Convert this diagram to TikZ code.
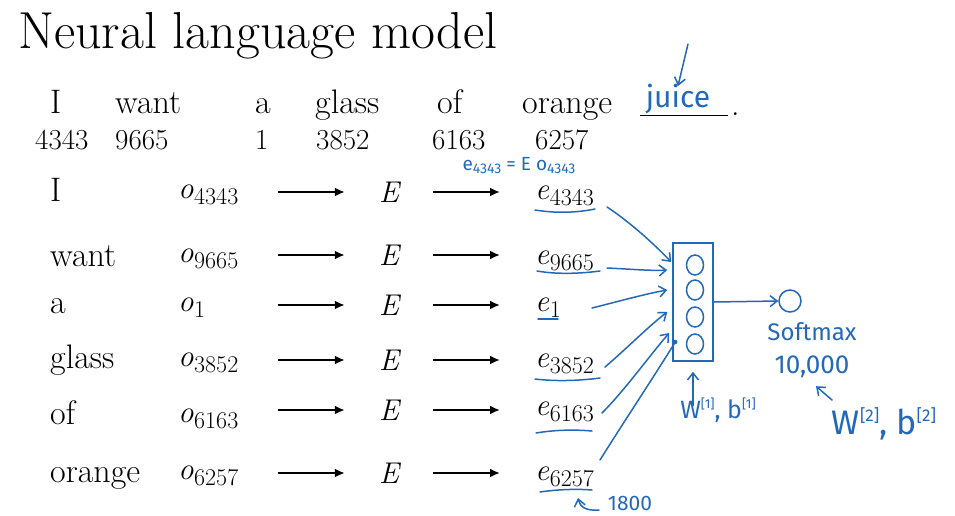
\documentclass[tikz,border=0pt]{standalone}
\usepackage{fontspec}
\newfontfamily\hand{Fira Sans}
\usetikzlibrary{arrows.meta,calc,shapes.geometric}
\definecolor{pen}{RGB}{35,105,185}
\newcommand\vsub[2]{\textit{#1}\kern0.5pt\raisebox{-6pt}{\fontsize{24}{26}\selectfont #2}}
\newcommand\hsub[2]{#1\raisebox{-3pt}{\fontsize{14}{16}\selectfont #2}}
\begin{document}
\begin{tikzpicture}[x=1pt,y=-1pt,
  title/.style={anchor=base west,inner sep=0,font=\fontsize{52}{58}\selectfont},
  word/.style={anchor=base west,inner sep=0,font=\fontsize{34}{38}\selectfont},
  num/.style={anchor=base west,inner sep=0,font=\fontsize{29}{32}\selectfont},
  mathnode/.style={anchor=base west,inner sep=0,font=\fontsize{31}{34}\selectfont},
  Enode/.style={inner sep=0,minimum width=88pt,font=\fontsize{30}{34}\selectfont\itshape},
  blk/.style={line width=2pt,-{Latex[length=10pt,width=9pt]}},
  pennote/.style={pen,inner sep=0,font=\hand\fontsize{20}{24}\selectfont},
  penline/.style={pen,line width=1.5pt,line cap=round},
  penarrow/.style={penline,-{Straight Barb[length=7pt,width=11pt]}}]
\useasboundingbox[fill=white] (0,0) rectangle (955,515);

% title
\node[title] (title) at (18,48) {Neural language model};

% sentence
\node[word] (s1) at (50,113) {I};
\node[word] (s2) at (115,113) {want};
\node[word] (s3) at (255,113) {a};
\node[word] (s4) at (315,113) {glass};
\node[word] (s5) at (437,113) {of};
\node[word] (s6) at (522,113) {orange};
\draw[line width=1pt] (640,115) coordinate (ul1) -- (728,115) coordinate (ul2);
\node[word] (dot) at (731,115) {.};
\node[pennote,font=\hand\fontsize{30}{34}\selectfont] (juice) at (678,99) {juice};
\coordinate (jtop) at (688,44);
\draw[penarrow] (jtop) -- ([yshift=-2pt]juice.north);

% indices
\node[num] (n1) at (35,149) {4343};
\node[num] (n2) at (115,149) {9665};
\node[num] (n3) at (255,149) {1};
\node[num] (n4) at (316,149) {3852};
\node[num] (n5) at (432,149) {6163};
\node[num] (n6) at (535,149) {6257};

\node[pennote,font=\hand\fontsize{19}{21}\selectfont] (eq) at (519,166) {\hsub{e}{4343} = E \hsub{o}{4343}};

% rows
\foreach \i/\w/\idx/\ay/\ob/\eb/\wb in {1/I/4343/192/198/199/201,
                                       2/want/9665/255/262/264/266,
                                       3/a/1/305/311/311/313,
                                       4/glass/3852/360/366/367/368,
                                       5/of/6163/410/422/415/424,
                                       6/orange/6257/473/479/480/482}{
  \node[word] (w\i) at (50,\wb) {\w};
  \node[mathnode] (o\i) at (178,\ob) {\vsub{o}{\idx}};
  \node[Enode] (E\i) at (389,\ay) {E};
  \node[mathnode] (e\i) at (535,\eb) {\vsub{e}{\idx}};
  \coordinate (oa\i) at (278,\ay);
  \coordinate (eb\i) at (500,\ay);
  \draw[blk] (oa\i) -- (E\i.west);
  \draw[blk] (E\i.east) -- (eb\i);
}

% underlines of e's
\draw[penline] (535,210) .. controls (560,214) and (580,212) .. (595,209);
\draw[penline] (537,271) .. controls (560,275) and (585,273) .. (600,271);
\draw[penline] (538,319) -- (558,319);
\draw[penline] (535,379) .. controls (560,382) and (585,380) .. (600,378);
\draw[penline] (536,433) .. controls (560,429) and (580,430) .. (592,431);
\draw[penline] (540,492) .. controls (560,489) and (580,489) .. (592,490);

% hidden layer
\node[draw=pen,line width=1.5pt,minimum width=40pt,minimum height=118pt,inner sep=0] (layer) at (693,302) {};
\foreach \j/\cy in {1/265,2/290,3/317,4/344}{
  \node[draw=pen,line width=1.5pt,ellipse,minimum width=17pt,minimum height=20pt,inner sep=0] (h\j) at (695,\cy) {};
}

% arrows into layer
\coordinate (a1) at (607,207);
\coordinate (a2) at (607,268);
\coordinate (a3) at (592,308);
\coordinate (a4) at (605,367);
\coordinate (a5) at (602,413);
\coordinate (a6) at (600,460);
\draw[penarrow] (a1) .. controls (630,222) and (655,245) .. ($(layer.west)+(-1,-40)$);
\draw[penarrow] (a2) .. controls (630,269) and (650,271) .. ($(layer.west)+(-5,-32)$);
\draw[penarrow] (a3) .. controls (620,301) and (645,294) .. ($(layer.west)+(-5,-12)$);
\draw[penarrow] (a4) .. controls (625,350) and (650,325) .. ($(layer.west)+(-5,10)$);
\draw[penarrow] (a5) .. controls (625,390) and (650,355) .. ($(layer.west)+(-3,31)$);
\draw[penline] (a6) .. controls (625,420) and (655,375) .. ($(layer.west)+(3,40)$);
\fill[pen] ($(layer.west)+(3,40)$) circle (2.2pt);

% output
\node[draw=pen,line width=1.5pt,circle,minimum size=22pt,inner sep=0] (sm) at (790,301) {};
\draw[penarrow] (layer.east) -- (sm.west);
\node[pennote,font=\hand\fontsize{24}{28}\selectfont] (smlbl) at (812,332) {Softmax};
\node[pennote,font=\hand\fontsize{26}{30}\selectfont] (tenk) at (812,367) {10,000};

% parameters
\node[pennote,font=\hand\fontsize{25}{28}\selectfont] (p1) at (718,410) {W\raisebox{10pt}{\fontsize{13}{15}\selectfont [1]}, b\raisebox{10pt}{\fontsize{13}{15}\selectfont [1]}};
\draw[penarrow] ([yshift=-8pt]p1.north -| layer.south) -- ([yshift=-10pt]layer.south);
\node[pennote,font=\hand\fontsize{34}{38}\selectfont] (p2) at (884,424) {W\raisebox{13pt}{\fontsize{17}{19}\selectfont [2]}, b\raisebox{13pt}{\fontsize{17}{19}\selectfont [2]}};
\coordinate (p2t) at (832,400);
\draw[penarrow] (p2t) -- ([xshift=4pt,yshift=-8pt]tenk.south);

% 1800
\node[pennote,font=\hand\fontsize{21}{24}\selectfont] (k1800) at (630,503) {1800};
\coordinate (c1800) at (599,510);
\draw[penarrow] (c1800) .. controls (586,511) and (580,507) .. (578,498);
\end{tikzpicture}
\end{document}
